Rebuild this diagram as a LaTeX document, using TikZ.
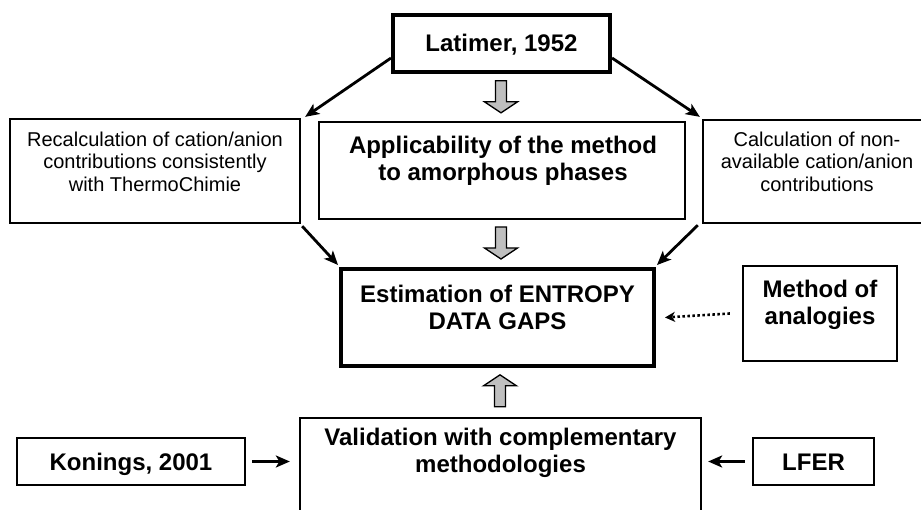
\documentclass[tikz,border=0pt]{standalone}
\usepackage{fontspec}
\setmainfont{Liberation Sans}
\usetikzlibrary{arrows.meta,calc}
\begin{document}
\begin{tikzpicture}[x=1pt,y=-1pt,
  box/.style={draw, line width=2.3pt, inner sep=0pt},
  thickbox/.style={draw, line width=4pt, inner sep=0pt},
  bigfont/.style={font=\fontsize{24}{27.5}\selectfont\bfseries},
  big/.style={bigfont, align=center, inner sep=0pt},
  small/.style={font=\fontsize{20}{22.5}\selectfont, align=center, inner sep=0pt},
  oneline/.style={bigfont, text height=17pt, text depth=0pt},
  conn/.style={line width=2.8pt, -{Stealth[length=14pt,width=12pt,inset=3.5pt]}},
  dotconn/.style={line width=2.6pt, dash pattern=on 2.5pt off 2.5pt, -{Stealth[length=10pt,width=10pt,inset=3pt]}},
  gfill/.style={draw, line width=1.3pt, fill=black!25, line join=miter},
  gblock/.pic={\path[gfill] (-5.5,-32) -- (5.5,-32) -- (5.5,-11) -- (16.5,-11) -- (0,0) -- (-16.5,-11) -- (-5.5,-11) -- cycle;}
]
\useasboundingbox (0,0) rectangle (921,510);
\clip (0,0) rectangle (921,510);

% boxes
\node[thickbox, oneline, minimum width=217pt, minimum height=57pt] (lat) at (501.5,43.5) {Latimer, 1952};

\node[box, minimum width=290pt, minimum height=104pt] (rec) at (155,171) {};
\node[small, anchor=north] (recT) at (155,131.7) {Recalculation of cation/anion\\contributions consistently\\with ThermoChimie};

\node[box, minimum width=366pt, minimum height=97pt] (app) at (502,170.5) {};
\node[big, anchor=north] (appT) at (503,135.8) {Applicability of the method\\to amorphous phases};

\node[box, minimum width=228pt, minimum height=103pt] (calc) at (817,171.5) {};
\node[small, anchor=north] (calcT) at (817,131.7) {Calculation of non-\\available cation/anion\\contributions};

\node[thickbox, minimum width=313pt, minimum height=97pt] (est) at (497.5,317.5) {};
\node[big, anchor=north] (estT) at (497.5,284.8) {Estimation of ENTROPY\\DATA GAPS};

\node[box, minimum width=154pt, minimum height=95pt] (meth) at (820,313.5) {};
\node[big, anchor=north] (methT) at (820,279.8) {Method of\\analogies};

\node[box, minimum width=401pt, minimum height=140pt] (val) at (500.5,488) {};
\node[big, anchor=north] (valT) at (500.5,427.8) {Validation with complementary\\methodologies};

\node[box, oneline, minimum width=228pt, minimum height=47pt] (kon) at (131,461.5) {Konings, 2001};
\node[box, oneline, minimum width=121pt, minimum height=47pt] (lfer) at (813.5,461.5) {LFER};

% connectors
\draw[conn] ($(lat.south west)+(0,-16)$) -- ($(rec.north east)+(4,-1)$);
\draw[conn] ($(lat.south east)+(0,-16)$) -- ($(calc.north west)+(-2,-2)$);
\draw[conn] ($(rec.south east)+(1,2)$) -- ($(est.north west)+(-1,-2)$);
\draw[conn] ($(calc.south west)+(-4,1)$) -- ($(est.north east)+(1,-2)$);
\draw[dotconn] ($(meth.west)+(-12,0)$) -- ($(est.east)+(9,0)$);
\draw[conn] ($(kon.east)+(6,0)$) -- ($(val.west |- kon.east)+(-9,0)$);
\draw[conn] ($(lfer.west)+(-7,0)$) -- ($(val.east |- lfer.west)+(6,0)$);

% grey block arrows
\pic at ($(app.north)+(-1,-8)$) {gblock};
\pic at ($(est.north)+(3.5,-8)$) {gblock};
\pic[rotate=180] at ($(val.north)+(-0.5,-42)$) {gblock};
\end{tikzpicture}
\end{document}
